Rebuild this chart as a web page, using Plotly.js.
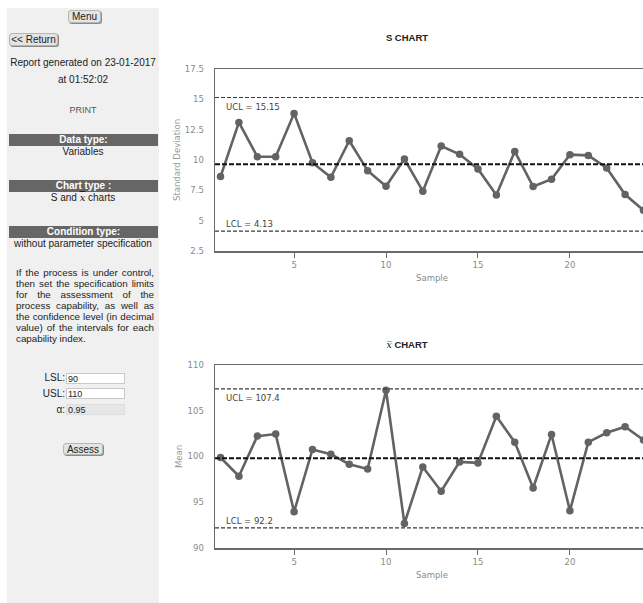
<!DOCTYPE html>
<html>
<head>
<meta charset="utf-8">
<script src="https://cdn.plot.ly/plotly-3.0.1.min.js"></script>
<style>
  html, body { margin:0; padding:0; width:643px; height:603px; overflow:hidden; background:#fff; font-family:"Liberation Sans", Arial, sans-serif; }
  #side { position:absolute; left:7px; top:8px; width:152px; height:595px; background:#f0f0f0; color:#222; font-size:10px; }
  .abs { position:absolute; }
  .c { left:0; width:152px; text-align:center; line-height:12px; white-space:nowrap; }
  .btn { position:absolute; font-family:"Liberation Sans", Arial, sans-serif; font-size:10px; line-height:11px; color:#222; background:#e4e4e4; border:1px solid #b5b5b5; border-radius:3px; box-shadow:1px 1px 0 #8a8a8a; padding:0; text-align:center; box-sizing:border-box; }
  .bar { position:absolute; left:2px; width:149px; height:12px; background:#666; color:#fff; font-weight:bold; text-align:center; line-height:12px; font-size:10px; }
  .para { position:absolute; left:9px; width:138px; text-align:justify; font-size:9.8px; line-height:11px; color:#222; }
  .lbl { position:absolute; width:58px; left:0; text-align:right; font-size:10px; line-height:11px; color:#222; }
  .inp { position:absolute; left:59px; width:59px; height:11px; border:1px solid #c8c8c8; background:#fff; font-size:9px; line-height:11px; padding-left:1px; box-sizing:border-box; color:#222; }
  .xbar { font-family:"DejaVu Serif", serif; font-style:italic; text-decoration:overline; }
  #sChart { position:absolute; left:165px; top:0px; width:484px; height:300px; }
  #xChart { position:absolute; left:165px; top:300px; width:484px; height:303px; }
</style>
</head>
<body>
<div id="side">
  <div class="btn" style="left:61px; top:2px; width:33px; height:13px;">Menu</div>
  <div class="btn" style="left:2px; top:25px; width:49px; height:13px;">&lt;&lt; Return</div>
  <div class="abs c" style="top:49px;">Report generated on 23-01-2017</div>
  <div class="abs c" style="top:66px;">at 01:52:02</div>
  <div class="abs c" style="top:96px; color:#555; font-size:9px;">PRINT</div>
  <div class="bar" style="top:126px;">Data type:</div>
  <div class="abs c" style="top:138px;">Variables</div>
  <div class="bar" style="top:172px;">Chart type :</div>
  <div class="abs c" style="top:184px;">S and <span class="xbar">x</span> charts</div>
  <div class="bar" style="top:218px;">Condition type:</div>
  <div class="abs c" style="top:230px;">without parameter specification</div>
  <div class="para" style="top:259px;">If the process is under control, then set the specification limits for the assessment of the process capability, as well as the confidence level (in decimal value) of the intervals for each capability index.</div>
  <div class="lbl" style="top:364px;">LSL:</div>
  <div class="inp" style="top:365px;">90</div>
  <div class="lbl" style="top:380px;">USL:</div>
  <div class="inp" style="top:380px;">110</div>
  <div class="lbl" style="top:396px;">&alpha;:</div>
  <div class="inp" style="top:396px; background:#e6e6e6; border-color:#ddd;">0.95</div>
  <div class="btn" style="left:56px; top:435px; width:40px; height:12px;">Assess</div>
</div>
<div id="sChart"></div>
<div id="xChart"></div>
<script>
// ---- data ----
var samples = [1, 2, 3, 4, 5, 6, 7, 8, 9, 10, 11, 12, 13, 14, 15, 16, 17, 18, 19, 20, 21, 22, 23, 24];
var sValues = [8.63, 13.1, 10.27, 10.27, 13.84, 9.78, 8.58, 11.59, 9.12, 7.84, 10.08, 7.43, 11.15, 10.47, 9.26, 7.12, 10.71, 7.81, 8.41, 10.44, 10.38, 9.34, 7.15, 5.85];
var xbarValues = [99.89, 97.84, 102.23, 102.45, 93.96, 100.77, 100.25, 99.16, 98.64, 107.24, 92.68, 98.86, 96.2, 99.41, 99.3, 104.39, 101.57, 96.56, 102.41, 94.07, 101.57, 102.59, 103.25, 101.8];
var sLimits = { ucl: 15.15, cl: 9.64, lcl: 4.13 };
var xLimits = { ucl: 107.4, cl: 99.8, lcl: 92.2 };
var xTicks = [5, 10, 15, 20];
var sTicks = [2.5, 5, 7.5, 10, 12.5, 15, 17.5];
var xbarTicks = [90, 95, 100, 105, 110];

var tickFont = { family: "DejaVu Sans, sans-serif", size: 8.5, color: "#8a8a8a" };
var lineColor = "#6a6a6a";

function makeChart(div, values, lim, yTicks, yRange, yTitle, titleText, topMargin, bottomMargin, titleY, uclText, lclText) {
  var trace = {
    x: samples, y: values, type: "scatter", mode: "lines+markers",
    line: { color: "#636363", width: 2.6 },
    marker: { color: "#636363", size: 7.5 },
    hoverinfo: "skip"
  };
  var dashLim = "4px,2px";
  var shapes = [
    { type: "line", xref: "paper", x0: 0, x1: 1, yref: "y", y0: lim.ucl, y1: lim.ucl, line: { color: "#3a3a3a", width: 1.2, dash: dashLim } },
    { type: "line", xref: "paper", x0: 0, x1: 1, yref: "y", y0: lim.lcl, y1: lim.lcl, line: { color: "#3a3a3a", width: 1.2, dash: dashLim } },
    { type: "line", xref: "paper", x0: 0, x1: 1, yref: "y", y0: lim.cl, y1: lim.cl, line: { color: "#111", width: 2, dash: "5px,2px" } }
  ];
  var annFont = { family: "DejaVu Sans, sans-serif", size: 8.5, color: "#444" };
  var layout = {
    width: 484, height: (div === "sChart" ? 300 : 303),
    margin: { l: 50, r: 0, t: topMargin, b: bottomMargin },
    paper_bgcolor: "rgba(0,0,0,0)", plot_bgcolor: "#fff",
    showlegend: false,
    title: { text: titleText, xref: "container", x: 0.5, xanchor: "center", yref: "container", y: titleY, yanchor: "middle",
             font: { family: "Liberation Sans, Arial, sans-serif", size: 9.5, color: "#222" } },
    xaxis: {
      range: [0.7, 24.3], tickvals: xTicks, ticktext: xTicks.map(String),
      showline: true, linecolor: lineColor, linewidth: 1.5, mirror: true,
      ticks: "outside", ticklen: 5, tickcolor: lineColor, tickwidth: 1,
      showgrid: false, zeroline: false, tickfont: tickFont,
      title: { text: "Sample", font: { family: "DejaVu Sans, sans-serif", size: 8.5, color: "#8a8a8a" }, standoff: 6 }
    },
    yaxis: {
      range: yRange, tickvals: yTicks, ticktext: yTicks.map(String),
      showline: true, linecolor: lineColor, linewidth: 1.5, mirror: true,
      ticks: "", showgrid: false, zeroline: false, tickfont: tickFont, ticklabelstandoff: 8,
      title: { text: yTitle, font: { family: "DejaVu Sans, sans-serif", size: 8.5, color: "#999" }, standoff: 3 }
    },
    shapes: shapes,
    annotations: [
      { xref: "paper", x: 0.021, xanchor: "left", yref: "y", y: lim.ucl, yanchor: "top", yshift: -2, text: uclText, showarrow: false, font: annFont },
      { xref: "paper", x: 0.021, xanchor: "left", yref: "y", y: lim.lcl, yanchor: "bottom", yshift: 0, text: lclText, showarrow: false, font: annFont }
    ]
  };
  Plotly.newPlot(div, [trace], layout, { staticPlot: true, displayModeBar: false });
}

makeChart("sChart", sValues, sLimits, sTicks, [2.5, 17.5], "Standard Deviation", "<b>S CHART</b>", 69, 49, 1 - 38 / 300,
  "UCL = " + sLimits.ucl, "LCL = " + sLimits.lcl);
makeChart("xChart", xbarValues, xLimits, xbarTicks, [90, 110], "Mean",
  "<span style=\"font-family:'DejaVu Serif',serif\"><i>x\u0305</i></span> <b>CHART</b>", 65, 55, 1 - 45 / 303,
  "UCL = " + xLimits.ucl, "LCL = " + xLimits.lcl);
</script>
</body>
</html>
